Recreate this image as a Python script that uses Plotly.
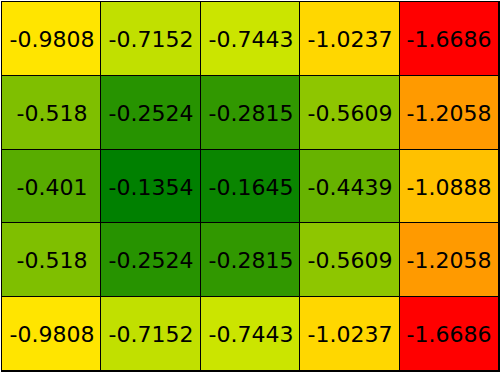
import plotly.graph_objects as go

columns = ["c1", "c2", "c3", "c4", "c5"]
rows = ["r1", "r2", "r3", "r4", "r5"]
values = [
    [-0.9808, -0.7152, -0.7443, -1.0237, -1.6686],
    [-0.518, -0.2524, -0.2815, -0.5609, -1.2058],
    [-0.401, -0.1354, -0.1645, -0.4439, -1.0888],
    [-0.518, -0.2524, -0.2815, -0.5609, -1.2058],
    [-0.9808, -0.7152, -0.7443, -1.0237, -1.6686],
]
labels = [[str(v) for v in row] for row in values]

fig = go.Figure(
    go.Heatmap(
        z=values,
        x=columns,
        y=rows,
        text=labels,
        texttemplate="%{text}",
        textfont=dict(family="DejaVu Sans", size=22, color="black"),
        colorscale=[[0, "#ff0000"], [0.5, "#ffff00"], [1, "#008000"]],
        zmin=-1.6686,
        zmax=-0.1354,
        showscale=False,
        hoverinfo="skip",
        xgap=1,
        ygap=1,
    )
)
fig.update_layout(
    width=502,
    height=375,
    margin=dict(l=2, r=3, t=2, b=4),
    paper_bgcolor="white",
    plot_bgcolor="black",
)
fig.update_xaxes(showticklabels=False, showgrid=False, zeroline=False, ticks="",
                 showline=True, mirror=True, linecolor="black", linewidth=1)
fig.update_yaxes(showticklabels=False, showgrid=False, zeroline=False, ticks="",
                 autorange="reversed",
                 showline=True, mirror=True, linecolor="black", linewidth=1)
fig.write_html("out.html", config={"displayModeBar": False},
               post_script="document.body.style.margin='0';")
